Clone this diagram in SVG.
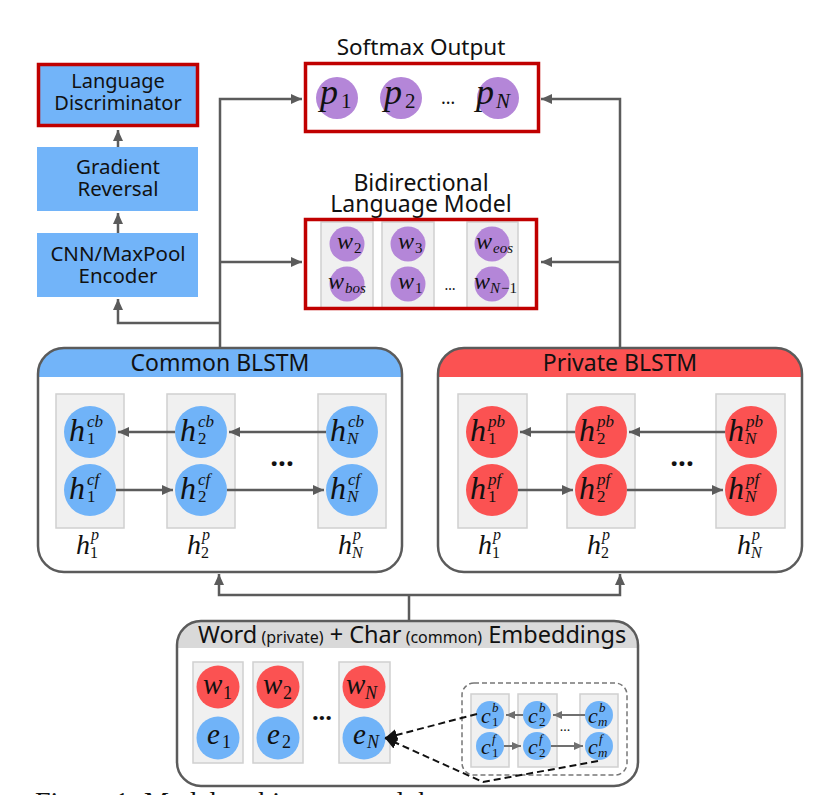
<svg xmlns="http://www.w3.org/2000/svg" width="816" height="795" viewBox="0 0 816 795">
<style>
.t{font-family:"Noto Sans","Open Sans",sans-serif;fill:#111;}
.m{font-family:"Liberation Serif","DejaVu Serif",serif;font-style:italic;fill:#111;}
.n{font-family:"Liberation Serif","DejaVu Serif",serif;fill:#111;}
.box{fill:#72b4f9;}
.redb{fill:none;stroke:#c00000;stroke-width:3.5;}
.col{fill:#f0f0f0;stroke:#d0d0d0;stroke-width:1.5;}
.cb{fill:#70b3f8;}
.cr{fill:#fb5252;}
.cp{fill:#b486d8;}
.ln{fill:none;stroke:#5b5b5b;stroke-width:2.5;}
.ln2{fill:none;stroke:#707070;stroke-width:2;}
.frame{fill:none;stroke:#5b5b5b;stroke-width:2.5;}
.dash{fill:none;stroke:#111;stroke-width:2;stroke-dasharray:7 4;}
</style>
<defs>
<marker id="ah" markerUnits="userSpaceOnUse" markerWidth="12" markerHeight="12" refX="11" refY="6" orient="auto"><path d="M0,1 L11,6 L0,11 z" fill="#5b5b5b"/></marker>
<marker id="ahs" markerUnits="userSpaceOnUse" markerWidth="10" markerHeight="10" refX="9" refY="5" orient="auto"><path d="M0,1 L9,5 L0,9 z" fill="#707070"/></marker>
<marker id="ahk" markerUnits="userSpaceOnUse" markerWidth="14" markerHeight="14" refX="12" refY="7" orient="auto"><path d="M0,1 L12,7 L0,13 z" fill="#111"/></marker>
<clipPath id="ccom"><rect x="38" y="348" width="364" height="224" rx="26"/></clipPath>
<clipPath id="cpri"><rect x="438" y="348" width="364" height="224" rx="26"/></clipPath>
<clipPath id="cemb"><rect x="177" y="621" width="461" height="165" rx="24"/></clipPath>
</defs>

<g id="connectors">
<path class="ln" d="M220,348 V99 H302" marker-end="url(#ah)"/>
<path class="ln" d="M220,262 H302" marker-end="url(#ah)"/>
<path class="ln" d="M220,323 H118 V299" marker-end="url(#ah)"/>
<path class="ln" d="M118,233 V213" marker-end="url(#ah)"/>
<path class="ln" d="M118,147 V130" marker-end="url(#ah)"/>
<path class="ln" d="M620,348 V99 H541" marker-end="url(#ah)"/>
<path class="ln" d="M620,262 H541" marker-end="url(#ah)"/>
<path class="ln" d="M409,621 V595"/>
<path class="ln" d="M409,595 H219 V574" marker-end="url(#ah)"/>
<path class="ln" d="M409,595 H620 V574" marker-end="url(#ah)"/>
</g>

<g id="lang-disc">
<rect class="box" x="37" y="63" width="162" height="64"/>
<rect class="redb" x="38.5" y="64.5" width="159" height="61"/>
<text class="t" x="118" y="88" font-size="20" text-anchor="middle">Language</text>
<text class="t" x="118" y="110" font-size="20" text-anchor="middle">Discriminator</text>
</g>
<g id="grad-rev">
<rect class="box" x="37" y="147" width="161" height="64"/>
<text class="t" x="118" y="174" font-size="20.5" text-anchor="middle">Gradient</text>
<text class="t" x="118" y="196" font-size="20.5" text-anchor="middle">Reversal</text>
</g>
<g id="cnn-enc">
<rect class="box" x="37" y="233" width="161" height="64"/>
<text class="t" x="118" y="261" font-size="20.5" text-anchor="middle">CNN/MaxPool</text>
<text class="t" x="118" y="283" font-size="20.5" text-anchor="middle">Encoder</text>
</g>

<g id="softmax">
<text class="t" x="421" y="55" font-size="22.5" text-anchor="middle">Softmax Output</text>
<rect x="304" y="62" width="236" height="71" fill="#fff"/>
<rect class="redb" x="305.5" y="63.5" width="233" height="68"/>
<circle class="cp" cx="337" cy="98" r="21"/>
<circle class="cp" cx="401" cy="98" r="21"/>
<circle class="cp" cx="498" cy="98" r="21"/>
<text class="m" x="320" y="104" font-size="36">p</text><text class="n" x="341" y="108" font-size="21">1</text>
<text class="m" x="384" y="104" font-size="36">p</text><text class="n" x="405" y="108" font-size="21">2</text>
<text class="m" x="476" y="104" font-size="36">p</text><text class="m" x="496" y="108" font-size="21">N</text>
<text class="t" x="448" y="104" font-size="18" text-anchor="middle">…</text>
</g>

<g id="bilm">
<text class="t" x="421" y="191" font-size="23" text-anchor="middle">Bidirectional</text>
<text class="t" x="421" y="212" font-size="23" text-anchor="middle">Language Model</text>
<rect x="304" y="218" width="234" height="92" fill="#fff"/>
<rect class="col" x="321" y="222" width="52" height="86"/>
<rect class="col" x="382" y="222" width="52" height="86"/>
<rect class="col" x="467" y="222" width="51" height="86"/>
<rect class="redb" x="305.5" y="219.5" width="231" height="89"/>
<circle class="cp" cx="347" cy="244" r="17.5"/>
<circle class="cp" cx="347" cy="284" r="17.5"/>
<circle class="cp" cx="408" cy="244" r="17.5"/>
<circle class="cp" cx="408" cy="284" r="17.5"/>
<circle class="cp" cx="492" cy="244" r="17.5"/>
<circle class="cp" cx="492" cy="284" r="17.5"/>
<text class="m" x="337" y="249" font-size="24">w</text><text class="n" x="354" y="253" font-size="15">2</text>
<text class="m" x="328" y="289" font-size="24">w</text><text class="m" x="345" y="293" font-size="15">bos</text>
<text class="m" x="398" y="249" font-size="24">w</text><text class="n" x="415" y="253" font-size="15">3</text>
<text class="m" x="398" y="289" font-size="24">w</text><text class="n" x="415" y="293" font-size="15">1</text>
<text class="m" x="476" y="249" font-size="24">w</text><text class="m" x="493" y="253" font-size="15">eos</text>
<text class="m" x="474" y="289" font-size="24">w</text><text class="m" x="490" y="293" font-size="15">N</text><text class="n" x="501" y="293" font-size="15">−1</text>
<text class="t" x="450" y="290" font-size="14" text-anchor="middle">…</text>
</g>

<g id="common-blstm">
<rect x="38" y="348" width="364" height="224" rx="26" fill="#fff"/>
<rect x="38" y="348" width="364" height="29" class="box" clip-path="url(#ccom)"/>
<rect class="frame" x="38" y="348" width="364" height="224" rx="26"/>
<text class="t" x="220" y="371" font-size="23" text-anchor="middle">Common BLSTM</text>
<rect class="col" x="56" y="394" width="68" height="134"/>
<rect class="col" x="167" y="394" width="68" height="134"/>
<rect class="col" x="318" y="394" width="68" height="134"/>
<path class="ln" d="M326,432 H229" marker-end="url(#ah)"/>
<path class="ln" d="M175,432 H118" marker-end="url(#ah)"/>
<path class="ln" d="M116,490 H173" marker-end="url(#ah)"/>
<path class="ln" d="M227,490 H324" marker-end="url(#ah)"/>
<circle class="cb" cx="90" cy="432" r="26"/><circle class="cb" cx="90" cy="490" r="26"/>
<circle class="cb" cx="201" cy="432" r="26"/><circle class="cb" cx="201" cy="490" r="26"/>
<circle class="cb" cx="352" cy="432" r="26"/><circle class="cb" cx="352" cy="490" r="26"/>
<text class="m" x="69" y="441" font-size="32">h</text><text class="m" x="87" y="427" font-size="17">cb</text><text class="n" x="87" y="444" font-size="17">1</text>
<text class="m" x="69" y="499" font-size="32">h</text><text class="m" x="87" y="485" font-size="17">cf</text><text class="n" x="87" y="502" font-size="17">1</text>
<text class="m" x="180" y="441" font-size="32">h</text><text class="m" x="198" y="427" font-size="17">cb</text><text class="n" x="198" y="444" font-size="17">2</text>
<text class="m" x="180" y="499" font-size="32">h</text><text class="m" x="198" y="485" font-size="17">cf</text><text class="n" x="198" y="502" font-size="17">2</text>
<text class="m" x="330" y="441" font-size="32">h</text><text class="m" x="348" y="427" font-size="17">cb</text><text class="m" x="347" y="444" font-size="17">N</text>
<text class="m" x="330" y="499" font-size="32">h</text><text class="m" x="348" y="485" font-size="17">cf</text><text class="m" x="347" y="502" font-size="17">N</text>
<text class="t" x="282" y="466" font-size="28" font-weight="bold" text-anchor="middle">...</text>
<text class="m" x="76" y="554" font-size="28">h</text><text class="m" x="91" y="540" font-size="16">p</text><text class="n" x="90" y="558" font-size="16">1</text>
<text class="m" x="187" y="554" font-size="28">h</text><text class="m" x="202" y="540" font-size="16">p</text><text class="n" x="201" y="558" font-size="16">2</text>
<text class="m" x="338" y="554" font-size="28">h</text><text class="m" x="353" y="540" font-size="16">p</text><text class="m" x="352" y="558" font-size="16">N</text>
</g>

<g id="private-blstm">
<rect x="438" y="348" width="364" height="224" rx="26" fill="#fff"/>
<rect x="438" y="348" width="364" height="29" class="cr" clip-path="url(#cpri)"/>
<rect class="frame" x="438" y="348" width="364" height="224" rx="26"/>
<text class="t" x="620" y="371" font-size="23" text-anchor="middle">Private BLSTM</text>
<rect class="col" x="458" y="394" width="69" height="134"/>
<rect class="col" x="567" y="394" width="68" height="134"/>
<rect class="col" x="716" y="394" width="69" height="134"/>
<path class="ln" d="M725,432 H629" marker-end="url(#ah)"/>
<path class="ln" d="M575,432 H520" marker-end="url(#ah)"/>
<path class="ln" d="M518,490 H573" marker-end="url(#ah)"/>
<path class="ln" d="M627,490 H723" marker-end="url(#ah)"/>
<circle class="cr" cx="492" cy="432" r="26"/><circle class="cr" cx="492" cy="490" r="26"/>
<circle class="cr" cx="601" cy="432" r="26"/><circle class="cr" cx="601" cy="490" r="26"/>
<circle class="cr" cx="751" cy="432" r="26"/><circle class="cr" cx="751" cy="490" r="26"/>
<text class="m" x="470" y="441" font-size="32">h</text><text class="m" x="488" y="427" font-size="17">pb</text><text class="n" x="488" y="444" font-size="17">1</text>
<text class="m" x="470" y="499" font-size="32">h</text><text class="m" x="488" y="485" font-size="17">pf</text><text class="n" x="488" y="502" font-size="17">1</text>
<text class="m" x="579" y="441" font-size="32">h</text><text class="m" x="597" y="427" font-size="17">pb</text><text class="n" x="597" y="444" font-size="17">2</text>
<text class="m" x="579" y="499" font-size="32">h</text><text class="m" x="597" y="485" font-size="17">pf</text><text class="n" x="597" y="502" font-size="17">2</text>
<text class="m" x="728" y="441" font-size="32">h</text><text class="m" x="746" y="427" font-size="17">pb</text><text class="m" x="745" y="444" font-size="17">N</text>
<text class="m" x="728" y="499" font-size="32">h</text><text class="m" x="746" y="485" font-size="17">pf</text><text class="m" x="745" y="502" font-size="17">N</text>
<text class="t" x="682" y="466" font-size="28" font-weight="bold" text-anchor="middle">...</text>
<text class="m" x="478" y="554" font-size="28">h</text><text class="m" x="493" y="540" font-size="16">p</text><text class="n" x="492" y="558" font-size="16">1</text>
<text class="m" x="587" y="554" font-size="28">h</text><text class="m" x="602" y="540" font-size="16">p</text><text class="n" x="601" y="558" font-size="16">2</text>
<text class="m" x="737" y="554" font-size="28">h</text><text class="m" x="752" y="540" font-size="16">p</text><text class="m" x="751" y="558" font-size="16">N</text>
</g>

<g id="embeddings">
<rect x="177" y="621" width="461" height="165" rx="24" fill="#fff"/>
<rect x="177" y="621" width="461" height="27" fill="#d9d9d9" clip-path="url(#cemb)"/>
<rect class="frame" x="177" y="621" width="461" height="165" rx="24"/>
<text class="t" x="198" y="643" font-size="23.5">Word<tspan font-size="16"> (private)</tspan> + Char<tspan font-size="16"> (common)</tspan> Embeddings</text>
<rect class="col" x="193" y="662" width="50" height="101"/>
<rect class="col" x="253" y="662" width="50" height="101"/>
<rect class="col" x="339" y="662" width="51" height="101"/>
<circle class="cr" cx="218" cy="687" r="21.5"/><circle class="cb" cx="218" cy="738" r="21.5"/>
<circle class="cr" cx="278" cy="687" r="21.5"/><circle class="cb" cx="278" cy="738" r="21.5"/>
<circle class="cr" cx="364" cy="687" r="21.5"/><circle class="cb" cx="364" cy="738" r="21.5"/>
<text class="m" x="203" y="694" font-size="29">w</text><text class="n" x="223" y="699" font-size="18">1</text>
<text class="m" x="263" y="694" font-size="29">w</text><text class="n" x="283" y="699" font-size="18">2</text>
<text class="m" x="346" y="694" font-size="29">w</text><text class="m" x="365" y="699" font-size="18">N</text>
<text class="m" x="207" y="744" font-size="29">e</text><text class="n" x="222" y="748" font-size="18">1</text>
<text class="m" x="267" y="744" font-size="29">e</text><text class="n" x="282" y="748" font-size="18">2</text>
<text class="m" x="353" y="744" font-size="29">e</text><text class="m" x="367" y="748" font-size="18">N</text>
<text class="t" x="322" y="720" font-size="24" font-weight="bold" text-anchor="middle">...</text>
</g>

<g id="char-blstm">
<rect x="462" y="683" width="165" height="92" rx="12" fill="none" stroke="#777" stroke-width="1.5" stroke-dasharray="5 3"/>
<rect class="col" x="471" y="694" width="38" height="73"/>
<rect class="col" x="518" y="694" width="39" height="73"/>
<rect class="col" x="580" y="694" width="38" height="73"/>
<path class="ln2" d="M585,715 H553" marker-end="url(#ahs)"/>
<path class="ln2" d="M523,715 H506" marker-end="url(#ahs)"/>
<path class="ln2" d="M504,746 H521" marker-end="url(#ahs)"/>
<path class="ln2" d="M551,746 H583" marker-end="url(#ahs)"/>
<circle class="cb" cx="490" cy="715" r="14"/><circle class="cb" cx="490" cy="746" r="14"/>
<circle class="cb" cx="537" cy="715" r="14"/><circle class="cb" cx="537" cy="746" r="14"/>
<circle class="cb" cx="599" cy="715" r="14"/><circle class="cb" cx="599" cy="746" r="14"/>
<text class="m" x="481" y="723" font-size="22">c</text><text class="m" x="492" y="712" font-size="13">b</text><text class="n" x="492" y="726" font-size="13">1</text>
<text class="m" x="481" y="754" font-size="22">c</text><text class="m" x="492" y="743" font-size="13">f</text><text class="n" x="492" y="757" font-size="13">1</text>
<text class="m" x="528" y="723" font-size="22">c</text><text class="m" x="539" y="712" font-size="13">b</text><text class="n" x="539" y="726" font-size="13">2</text>
<text class="m" x="528" y="754" font-size="22">c</text><text class="m" x="539" y="743" font-size="13">f</text><text class="n" x="539" y="757" font-size="13">2</text>
<text class="m" x="588" y="723" font-size="22">c</text><text class="m" x="599" y="712" font-size="13">b</text><text class="m" x="598" y="726" font-size="13">m</text>
<text class="m" x="588" y="754" font-size="22">c</text><text class="m" x="599" y="743" font-size="13">f</text><text class="m" x="598" y="757" font-size="13">m</text>
<text class="t" x="565" y="731" font-size="13" text-anchor="middle">...</text>
</g>

<g id="char-to-emb">
<path class="dash" d="M477,714 L385,738" marker-end="url(#ahk)"/>
<path class="dash" d="M598,761 L483,782 L385,738" marker-end="url(#ahk)"/>
</g>

<text class="n" x="35" y="811" font-size="28">Figure 1: Model architecture and the</text>
</svg>
